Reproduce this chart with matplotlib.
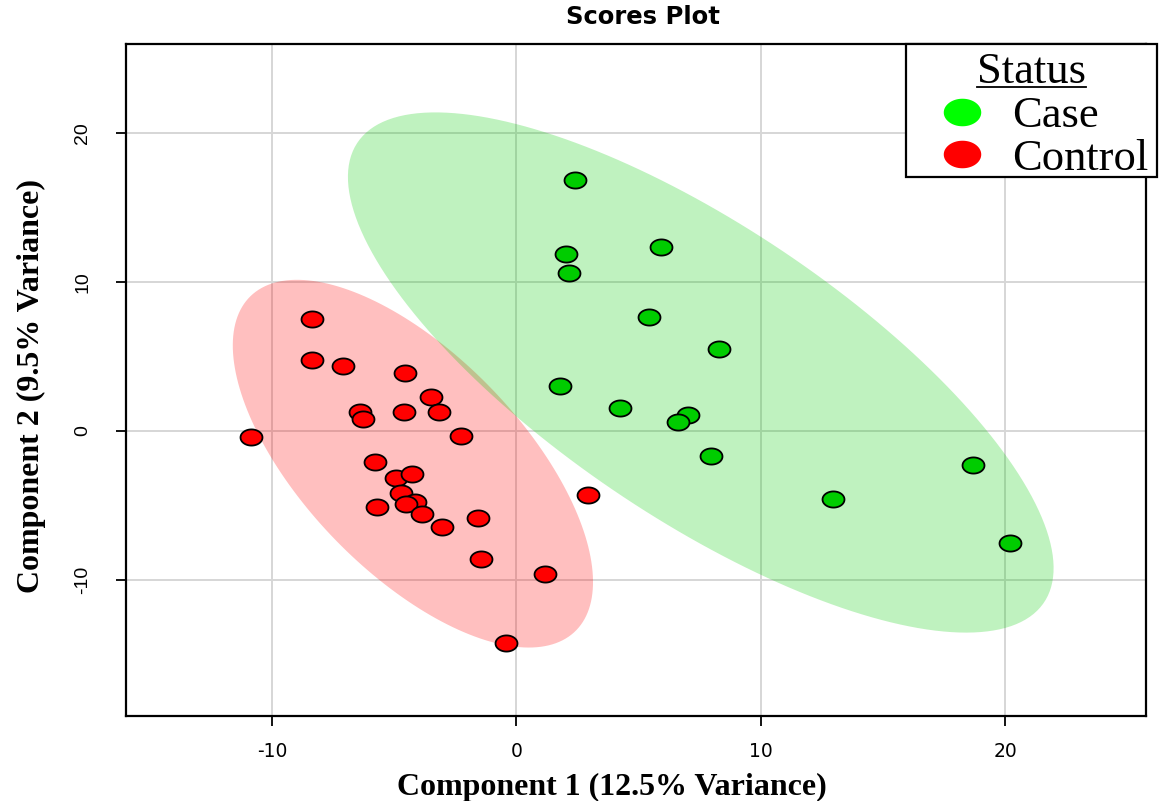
import numpy as np
import matplotlib
matplotlib.use("Agg")
import matplotlib.pyplot as plt
from matplotlib.path import Path
from matplotlib.lines import Line2D
from matplotlib.patches import Rectangle

# PLS-DA scores
case_x = [2.38, 5.91, 2.04, 2.16, 5.42, 8.28, 1.78, 4.23, 7.00, 6.59, 7.96, 18.68, 12.95, 20.17]
case_y = [16.85, 12.37, 11.86, 10.58, 7.65, 5.48, 3.00, 1.54, 1.07, 0.60, -1.68, -2.30, -4.58, -7.52]

control_x = [-8.38, -8.38, -7.08, -4.57, -3.50, -6.39, -6.27, -4.61, -3.17, -10.87, -2.27, -5.78,
             -4.93, -4.27, -4.71, -4.15, -4.52, -5.69, -3.87, -3.05, -1.59, -1.45, 2.92, 1.15, -0.42]
control_y = [7.52, 4.77, 4.34, 3.91, 2.28, 1.30, 0.81, 1.28, 1.28, -0.38, -0.36, -2.10,
             -3.17, -2.91, -4.14, -4.74, -4.90, -5.12, -5.59, -6.46, -5.84, -8.61, -4.28, -9.58, -14.21]

groups = ["Case", "Control"]
x_ticks = [-10, 0, 10, 20]
y_ticks = [-10, 0, 10, 20]
x_labels = ["-10", "0", "10", "20"]
y_labels = ["-10", "0", "10", "20"]

pt_col = {"Case": "#00CC00", "Control": "#FF0000"}
leg_col = {"Case": "#00FF00", "Control": "#FF0000"}

# slightly wide dot, as in the stretched original
t = np.linspace(0, 2 * np.pi, 60)
oval = Path(np.column_stack([1.36 * np.cos(t), np.sin(t)]), closed=True)


def conf_ellipse(x, y, level_chi2=5.991, n=200):
    pts = np.column_stack([x, y])
    centre = pts.mean(axis=0)
    cov = np.cov(pts, rowvar=False)
    vals, vecs = np.linalg.eigh(cov)
    a = np.linspace(0, 2 * np.pi, n)
    circ = np.column_stack([np.cos(a), np.sin(a)]) * np.sqrt(vals * level_chi2)
    return centre + circ @ vecs.T


W, H = 1163, 801
fig = plt.figure(figsize=(W / 100, H / 100), dpi=100)
ax = fig.add_axes([0.1083, 0.1061, 0.8771, 0.839])

ell = conf_ellipse(control_x, control_y)
ax.fill(ell[:, 0], ell[:, 1], color="#FF0000", alpha=0.25, lw=0, zorder=1)
ell = conf_ellipse(case_x, case_y)
ax.fill(ell[:, 0], ell[:, 1], color="#00CC00", alpha=0.25, lw=0, zorder=1)

ax.scatter(case_x, case_y, s=250, marker=oval, c=pt_col["Case"], edgecolors="black",
           linewidths=1.3, zorder=3)
ax.scatter(control_x, control_y, s=250, marker=oval, c=pt_col["Control"], edgecolors="black",
           linewidths=1.3, zorder=3)

ax.set_xlim(-15.97, 25.75)
ax.set_ylim(-19.13, 25.97)
ax.set_xticks(x_ticks, labels=x_labels, fontsize=13.5, family="DejaVu Sans")
ax.set_yticks(y_ticks, labels=y_labels, fontsize=14, family="Liberation Sans",
              rotation=90, va="center")
ax.grid(True, color="#D6D6D6", lw=1.4, zorder=0)
ax.set_axisbelow(True)
for s in ax.spines.values():
    s.set_linewidth(1.6)
    s.set_color("black")

ax.tick_params(axis="both", direction="out", length=7, width=1.3, color="black")
ax.tick_params(axis="x", pad=12)
ax.tick_params(axis="y", pad=18)

ax.set_xlabel("Component 1 (12.5% Variance)", fontsize=23, fontweight="bold",
              family="Liberation Serif")
ax.set_ylabel("Component 2 (9.5% Variance)", fontsize=23, fontweight="bold",
              family="Liberation Serif")
ax.xaxis.set_label_coords(0.4765, -0.085)
ax.yaxis.set_label_coords(-0.078, 0.491)

fig.text(0.553, 0.979, "Scores Plot", ha="center", va="center", fontsize=17.5,
         fontweight="bold", family="DejaVu Sans")

# legend box and underlined title drawn by hand, entries via the legend API
ax.add_patch(Rectangle((906 / W, 1 - 177 / H), 251 / W, 133 / H, transform=fig.transFigure,
                       facecolor="white", edgecolor="black", lw=1.6, zorder=5, clip_on=False))
handles = [Line2D([], [], ls="none", marker=oval, markersize=27, markerfacecolor=leg_col[g],
                  markeredgewidth=0) for g in groups]
leg = ax.legend(handles, groups, loc="upper right",
                bbox_to_anchor=(1148 / W, 1 - 96 / H), bbox_transform=fig.transFigure,
                prop={"family": "Liberation Serif", "size": 32},
                frameon=False, borderpad=0, labelspacing=0.06, handletextpad=0.42,
                handlelength=1.4, borderaxespad=0)
leg.set_zorder(6)

ttl = fig.text(1031 / W, 1 - 72 / H, "Status", ha="center", va="center", fontsize=32,
               family="Liberation Serif", zorder=7)

fig.canvas.draw()
bb = ttl.get_window_extent().transformed(fig.transFigure.inverted())
uy = 1 - 87 / H
fig.add_artist(Line2D([bb.x0, bb.x1], [uy, uy], transform=fig.transFigure,
                      color="black", lw=1.3, zorder=7))

fig.savefig("out.png", dpi=100)
